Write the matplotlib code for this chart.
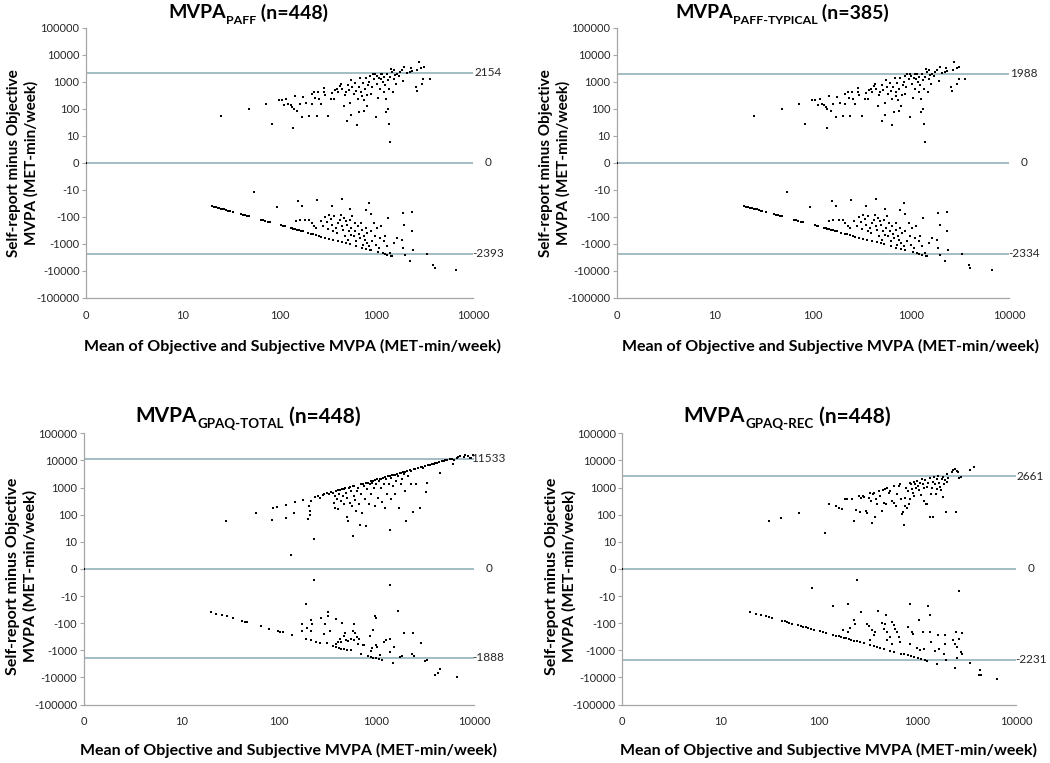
import matplotlib
matplotlib.use("Agg")
import matplotlib.pyplot as plt
import numpy as np

plt.rcParams['font.family'] = ['Lato', 'DejaVu Sans']

W, H = 1050, 763

# ---- data (mean, self-report minus objective) ----
y_ticks = [-100000, -10000, -1000, -100, -10, 0, 10, 100, 1000, 10000, 100000]
x_ticks = [0, 10, 100, 1000, 10000]

# MVPA PAFF
paff_above = [(25,52),(48,100),(73,149),(83,26),(139,20),(98,204),(105,215),(112,133),(118,234),(123,149),
    (130,133),(135,112),(146,294),(140,100),(152,84),(161,153),(172,48),(174,270),(187,167),(202,53),
    (214,349),(214,153),(227,414),(233,248),(241,52),(251,403),(256,222),(271,153),(287,582),(291,414),
    (297,330),(316,53),(336,222),(347,391),(368,234),(374,478),(389,551),(404,414),(420,692),(433,844),
    (444,520),(461,126),(472,312),(487,414),(503,34),(511,731),(523,478),(539,167),(543,60),(551,1185),
    (564,634),(586,359),(604,893),(618,439),(633,24),(643,234),(657,634),(669,75),(684,1367),(694,414),
    (710,286),(720,893),(737,204),(748,82),(760,551),(778,1406),(796,126),(809,330),(821,731),(840,972),
    (861,1577),(874,359),(895,634),(916,1922),(944,1291),(967,1978),(983,49),(1005,1622),(1021,844),
    (1037,248),(1061,1406),(1086,551),(1103,1870),(1120,1291),(1147,1978),(1174,972),(1192,414),(1211,1490),
    (1231,731),(1250,75),(1269,234),(1290,1978),(1310,1119),(1331,100),(1351,26),(1361,551),(1372,7.5),
    (1394,1447),(1416,3028),(1448,2279),(1483,414),(1507,1291),(1530,2630),(1566,1718),(1603,844),
    (1628,1978),(1692,1577),(1759,2279),(1829,2630),(1902,1028),(1947,3491),(2056,2036),(2222,2279),
    (2275,3304),(2311,2555),(2560,634),(2600,439),(2641,2630),(2725,5345),(2900,3209),(2945,844),
    (3089,3491),(3040,1291),(3560,1219)]
paff_zero_report = [(20,-40),(21,-42),(22,-44),(23,-46),(24,-48),(25,-50),(26,-52),(27,-54),(28,-56),
    (29.5,-59),(30.5,-61),(33,-66),(40,-80),(42.5,-85),(44.5,-89),(46,-92),(48,-96),(64,-128),(67.5,-135),
    (71,-142),(76,-152),(80,-160),(104,-208),(109,-218),(114,-228),(131,-262),(136,-272),(145,-290),
    (152,-304),(159,-318),(167,-334),(174,-348),(195,-390),(210,-420),(224,-448),(240,-480),(255,-510),
    (271,-542),(297,-594),(323,-646),(358,-716),(401,-802),(445,-890),(488,-976),(532,-1064),(618,-1236),
    (704,-1408),(790,-1580),(874,-1748),(1046,-2092),(1217,-2434),(1300,-2600)]
paff_below = [(55,-12),(94,-44),(157,-26),(170,-41),(242,-25),(347,-39),(444,-23),(539,-52),(772,-55),
    (846,-31),(874,-77),(1316,-112),(1887,-71),(2327,-65),(1947,-209),(2327,-339),(147,-149),(161,-137),
    (184,-137),(202,-129),(214,-172),(227,-215),(237,-263),(265,-149),(280,-228),(297,-103),(310,-162),
    (316,-286),(326,-84),(342,-122),(347,-198),(360,-349),(368,-97),(379,-263),(389,-403),(404,-172),
    (420,-129),(430,-84),(437,-228),(454,-303),(465,-112),(472,-535),(482,-149),(495,-198),(511,-711),
    (518,-349),(530,-129),(543,-464),(551,-263),(564,-97),(582,-535),(595,-172),(608,-349),(623,-820),
    (643,-228),(657,-426),(673,-617),(694,-172),(704,-303),(720,-1089),(737,-506),(760,-711),(778,-263),
    (796,-945),(809,-403),(840,-1256),(861,-1668),(874,-349),(908,-820),(944,-172),(967,-535),
    (997,-1089),(1021,-263),(1061,-1447),(1086,-617),(1120,-228),(1156,-2218),(1192,-820),(1240,-535),
    (1290,-1256),(1372,-2218),(1416,-2781),(1461,-2900),(1507,-945),(1628,-617),(1829,-753),(1874,-1447),
    (1990,-2555),(2222,-4300),(2400,-1766),(3295,-2484),(3860,-5998),(3980,-7800),(6590,-9190),(139,-278)]

# MVPA PAFF-TYPICAL (the visible points match the PAFF panel)
typical_above = paff_above
typical_zero_report = paff_zero_report
typical_below = paff_below

# MVPA GPAQ-TOTAL
total_above = [(29,59),(58,120),(86,66),(88,170),(97,185),(119,230),(119,74),(142,120),(147,290),(176,340),
    (198,72),(204,211),(210,138),(210,98),(215,322),(232,13),(135,5.2),(236,440),(251,480),(267,426),
    (282,540),(294,580),(313,620),(331,565),(344,680),(358,651),(366,279),(373,491),(378,183),(388,740),
    (396,370),(403,159),(409,800),(419,565),(429,794),(435,322),(446,880),(453,491),(465,243),(471,863),
    (482,950),(490,651),(497,79),(502,426),(510,59),(519,995),(531,279),(543,1080),(552,750),(561,211),
    (574,1150),(579,17),(588,491),(596,1180),(606,340),(621,138),(635,750),(646,995),(661,243),(672,42),
    (689,1300),(698,565),(710,120),(727,1400),(744,1150),(757,370),(774,1500),(787,39),(799,863),(819,1520),
    (832,257),(851,1320),(872,1700),(885,565),(899,1520),(920,1800),(943,995),(958,1850),(973,211),
    (996,1320),(1020,2000),(1035,426),(1052,1750),(1077,2100),(1103,995),(1121,2010),(1138,296),
    (1166,2300),(1193,1320),(1212,2400),(1232,183),(1262,2010),(1291,565),(1312,2600),(1334,1400),
    (1365,2700),(1387,27),(1397,370),(1420,2320),(1453,2800),(1476,1150),(1511,3000),(1535,565),
    (1559,3000),(1596,1750),(1635,3200),(1661,2670),(1688,183),(1728,3400),(1770,1320),(1798,3540),
    (1827,2010),(1870,3700),(1914,3250),(1945,750),(1976,3900),(2023,59),(2071,4100),(2105,2670),
    (2189,4300),(2240,1400),(2274,4080),(2366,130),(2424,4800),(2501,4700),(2562,1320),(2666,5200),
    (2772,183),(2837,5600),(2928,5800),(3022,5400),(3120,6200),(3243,708),(3319,1520),(3370,6700),
    (3505,7000),(3708,7300),(3857,7600),(4017,8000),(4178,8300),(4345,8600),(4520,3540),(4701,9300),
    (4890,9700),(5086,10000),(5290,10500),(5685,11200),(5914,11700),(6151,7170),(6249,10050),(6655,12600),
    (6922,13700),(7200,14200),(7811,13300),(8125,15800),(8652,14500),(9137,11900),(9364,12600),(9661,15300)]
total_zero_report = [(20,-40),(23,-45),(26.5,-50),(29.5,-56),(34,-64),(42.5,-83),(45,-90),(47,-94),
    (65.5,-127),(80,-159),(98,-194),(104,-208),(110,-220),(137,-264),(191,-382),(212,-424),(242,-477),
    (265,-520),(362,-724),(384,-768),(411,-822),(438,-876),(466,-932),(503,-1006),(694,-1388),(823,-1646),
    (874,-1748),(929,-1858),(980,-1960),(1059,-2118),(1144,-2288)]
total_below = [(227,-4),(1386,-6),(191,-19),(1678,-36),(323,-39),(318,-56),(273,-63),(390,-72),(448,-96),
    (587,-110),(966,-54),(997,-63),(175,-110),(215,-78),(221,-110),(196,-146),(175,-199),(215,-199),
    (299,-110),(335,-199),(292,-257),(473,-229),(574,-199),(605,-229),(929,-183),(861,-287),(629,-321),
    (669,-370),(467,-304),(421,-370),(405,-491),(438,-491),(484,-426),(511,-451),(544,-370),(587,-426),
    (722,-651),(643,-598),(980,-651),(1019,-750),(908,-794),(874,-1052),(1209,-491),(1258,-426),
    (1389,-370),(1523,-750),(1389,-1145),(1922,-229),(2350,-229),(2890,-535),(2315,-1320),(2424,-1652),
    (1820,-1652),(1477,-2900),(3180,-2452),(3270,-2318),(4480,-4831),(4310,-6776),(3990,-7900),
    (6680,-9508),(553,-995),(752,-651),(311,-535),(390,-598),(1102,-1435),(1750,-1750)]

# MVPA GPAQ-REC
rec_above = [(31,59),(41,78),(62,120),(114,21),(125,257),(149,211),(158,183),(171,159),(185,370),(192,384),
    (216,370),(225,56),(237,150),(252,491),(262,130),(267,426),(279,491),(288,451),(302,138),(306,120),
    (319,426),(331,651),(336,321),(344,49),(353,565),(358,651),(372,85),(378,370),(387,243),(403,750),
    (419,491),(435,138),(446,794),(452,279),(470,863),(481,243),(489,940),(508,651),(528,750),(549,321),
    (571,1100),(584,279),(598,211),(618,565),(642,1150),(667,1320),(683,370),(699,104),(710,130),(721,42),
    (738,211),(750,426),(767,995),(780,183),(792,750),(811,243),(830,1520),(843,370),(863,1320),(877,863),
    (898,651),(911,1650),(925,491),(947,1400),(969,995),(984,1750),(1007,1150),(1031,794),(1064,1520),
    (1081,535),(1107,2010),(1133,1320),(1151,940),(1169,321),(1197,1850),(1215,243),(1244,1050),
    (1263,257),(1292,1520),(1324,85),(1343,2190),(1365,598),(1397,995),(1429,83),(1452,1650),(1486,2450),
    (1510,1320),(1545,565),(1570,863),(1595,2010),(1633,2670),(1671,1520),(1698,1050),(1723,794),
    (1765,2010),(1806,451),(1835,2450),(1864,1320),(1907,1850),(1953,130),(1984,3080),(2014,1650),
    (2061,2320),(2228,3850),(2316,4440),(2409,4700),(2466,130),(2505,4080),(2605,3850),(2666,2320),
    (2748,2450),(3418,4440),(3751,5890)]
rec_zero_report = [(20,-39),(23,-45),(26,-51),(29,-56),(31,-61),(33,-65),(42,-82),(45,-87),(47,-92),
    (50,-98),(53,-104),(61,-119),(65,-127),(69,-135),(73,-142),(77,-150),(82,-160),(88,-172),(103,-201),
    (111,-216),(119,-232),(139,-271),(150,-292),(158,-308),(167,-325),(178,-347),(189,-368),(200,-390),
    (211,-411),(225,-439),(243,-474),(262,-511),(284,-554),(331,-645),(358,-698),(387,-755),(419,-817),
    (452,-881),(528,-1030),(580,-1131),(678,-1322),(733,-1429),(792,-1544),(855,-1667),(925,-1804),
    (1000,-1950),(1081,-2108),(1197,-2334),(1263,-2463)]
rec_below = [(85,-7),(243,-4),(2650,-8),(139,-24),(195,-19),(843,-19),(1274,-24),(269,-39),(393,-37),
    (481,-51),(1343,-51),(225,-79),(231,-104),(208,-146),(175,-183),(195,-211),(306,-104),(319,-130),
    (344,-172),(372,-211),(358,-280),(331,-426),(435,-98),(470,-104),(452,-159),(489,-211),(520,-321),
    (549,-90),(571,-120),(594,-159),(618,-211),(642,-321),(658,-491),(549,-565),(489,-426),(792,-137),
    (877,-211),(898,-257),(843,-565),(984,-794),(1047,-78),(1133,-211),(1064,-995),(1151,-863),
    (1343,-211),(1365,-491),(1633,-279),(1510,-1083),(1671,-863),(1907,-279),(1907,-565),(1864,-1400),
    (1953,-2200),(1570,-3080),(2450,-211),(2316,-426),(2380,-598),(2505,-1850),(2505,-750),(2666,-370),
    (2748,-1150),(2810,-229),(2810,-1320),(2409,-4700),(3418,-3070),(4320,-5400),(4390,-8260),
    (4250,-8500),(6470,-11000)]

origin = [(0, 0)]

panels = [
    # subscript, n, upper LoA, lower LoA, data, axes rect (px: left, top, right, bottom)
    ('PAFF', 448, 2154, -2393, [paff_above, paff_zero_report, paff_below], (85.7, 27.7, 473.3, 297.7)),
    ('PAFF-TYPICAL', 385, 1988, -2334, [typical_above, typical_zero_report, typical_below], (616.5, 27.7, 1009.3, 297.7)),
    ('GPAQ-TOTAL', 448, 11533, -1888, [total_above, total_zero_report, total_below], (83.5, 433.3, 474.0, 704.5)),
    ('GPAQ-REC', 448, 2661, -2231, [rec_above, rec_zero_report, rec_below], (622.0, 433.3, 1016.0, 704.5)),
]

title_pos = [(248, 18.5, 14), (782, 18.5, 14), (248, 422.5, 15), (787, 422.5, 15)]
xlabel_pos = [(292, 346), (830, 346), (288, 750), (828, 750)]
ylabel_pos = [(23, 163, 11), (555, 163, 11), (22, 576, 11.5), (561, 576, 11.5)]

LINE = '#93b1bb'
AXIS = '#a6a6a6'
TXT = '#262626'

fig = plt.figure(figsize=(W / 100, H / 100), dpi=100)

for (sub, n, upper, lower, series, rect), tpos, xl, yl in zip(panels, title_pos, xlabel_pos, ylabel_pos):
    l, t, r, b = rect
    ax = fig.add_axes([l / W, 1 - b / H, (r - l) / W, (b - t) / H])
    ax.set_xscale('symlog', linthresh=10, linscale=0.9)
    ax.set_yscale('symlog', linthresh=10, linscale=0.9)
    ax.set_xlim(0, 10000)
    ax.set_ylim(-100000, 100000)

    for y in (upper, 0, lower):
        ax.axhline(y, color=LINE, lw=1.2, zorder=1)
        ax.annotate(str(y), xy=(1, y), xycoords=('axes fraction', 'data'), xytext=(10.5, 0),
                    textcoords='offset points', ha='center', va='center', fontsize=8.5, color=TXT)

    pts = np.array(series[0] + series[1] + series[2] + origin, dtype=float)
    ax.scatter(pts[:, 0], pts[:, 1], s=4.5, marker='s', c='black', linewidths=0, zorder=3)

    ax.set_xticks(x_ticks)
    ax.set_xticklabels([str(v) for v in x_ticks])
    ax.set_yticks(y_ticks)
    ax.set_yticklabels([str(v) for v in y_ticks])
    ax.minorticks_off()
    ax.tick_params(axis='y', direction='out', length=3, width=0.8, color=AXIS, pad=1.5,
                   labelsize=8, labelcolor=TXT)
    ax.tick_params(axis='x', length=0, pad=8.5, labelsize=8, labelcolor=TXT)
    for s in ('top', 'right'):
        ax.spines[s].set_visible(False)
    for s in ('left', 'bottom'):
        ax.spines[s].set_color(AXIS)
        ax.spines[s].set_linewidth(0.9)
    ax.patch.set_alpha(0)

    # title with subscript, centred at the reference position
    cx, base, fs = tpos
    parts = [('MVPA', fs, 0.0), (sub, fs * 0.64, -0.26 * fs), (' (n=%d)' % n, fs, 0.0)]
    objs = [fig.text(0, 0, s, fontsize=f, fontweight='bold', color='black', ha='left', va='baseline')
            for s, f, _ in parts]
    fig.canvas.draw()
    rend = fig.canvas.get_renderer()
    widths = [o.get_window_extent(rend).width for o in objs]
    x0 = cx - sum(widths) / 2
    for o, w, (_, f, dy) in zip(objs, widths, parts):
        o.set_position((x0 / W, 1 - (base - dy * 100 / 72) / H))
        x0 += w

    fig.text(xl[0] / W, 1 - xl[1] / H, 'Mean of Objective and Subjective MVPA (MET-min/week)',
             ha='center', va='center', fontsize=11.5, fontweight='bold', color='black')
    fig.text(yl[0] / W, 1 - yl[1] / H, 'Self-report minus Objective\nMVPA (MET-min/week)',
             ha='center', va='center', rotation=90, multialignment='center', linespacing=1.25,
             fontsize=yl[2], fontweight='bold', color='black')

fig.savefig('out.png', dpi=100)
